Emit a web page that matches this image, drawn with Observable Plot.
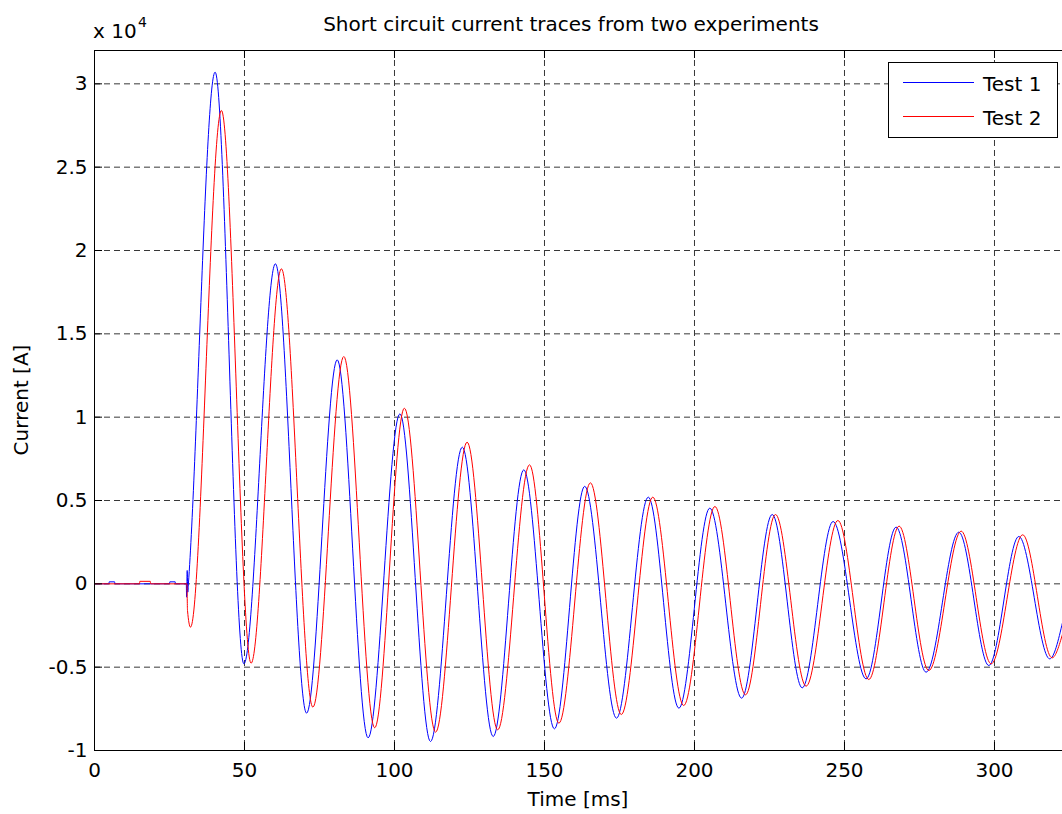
<!DOCTYPE html>
<html><head><meta charset="utf-8">
<script src="https://cdn.jsdelivr.net/npm/d3@7"></script>
<script src="https://cdn.jsdelivr.net/npm/@observablehq/plot@0.6"></script>
<style>
html,body{margin:0;padding:0;background:#fff;}
#chart{position:relative;width:1062px;height:814px;overflow:hidden;}
</style></head><body><div id="chart"></div>
<script>
// ---- data (time in ms, current in units of 10^4 A) ----
const test1Time = [0, 4.8, 4.9, 6.7, 6.8, 25.0, 25.1, 26.9, 27.0, 30.6, 30.7, 30.9, 31.1, 31.3,
  40.2, 49.8, 60.3, 70.7, 80.9, 91.2, 101.8, 112.0, 122.6, 132.9, 143.1, 153.3, 163.4, 174.0,
  184.6, 194.8, 205.1, 215.7, 225.9, 235.9, 246.2, 257.2, 267.2, 277.2, 288.1, 298.1, 308.1, 318.4, 322.7];
const test1Current = [0, 0, 0.012, 0.012, 0, 0, 0.012, 0.012, 0, 0, -0.08, 0.08, -0.05, 0,
  3.07, -0.48, 1.92, -0.776, 1.344, -0.924, 1.02, -0.946, 0.82, -0.916, 0.684, -0.87, 0.585, -0.806,
  0.52, -0.746, 0.454, -0.686, 0.416, -0.624, 0.374, -0.57, 0.34, -0.53, 0.31, -0.49, 0.284, -0.45, -0.23];
const test2Time = [0, 15.0, 15.1, 18.6, 18.7, 30.8, 31.0, 32.0,
  42.3, 52.2, 62.3, 72.8, 83.1, 93.4, 103.3, 113.7, 124.2, 134.4, 145.0, 154.8, 165.3, 175.6,
  186.1, 196.4, 206.8, 217.0, 227.0, 237.2, 247.8, 258.1, 268.2, 278.1, 288.9, 298.9, 309.4, 319.2, 322.7];
const test2Current = [0, 0, 0.015, 0.015, 0, 0, -0.16, -0.26,
  2.84, -0.476, 1.89, -0.74, 1.364, -0.864, 1.054, -0.89, 0.85, -0.876, 0.714, -0.836, 0.606, -0.784,
  0.52, -0.73, 0.464, -0.666, 0.416, -0.614, 0.38, -0.574, 0.346, -0.52, 0.316, -0.48, 0.294, -0.444, -0.3];
const xTicks = [0, 50, 100, 150, 200, 250, 300];
const yTicks = [-1, -0.5, 0, 0.5, 1, 1.5, 2, 2.5, 3];
const seriesNames = ["Test 1", "Test 2"];
const seriesColors = ["#0000ff", "#ff0000"];
const titleText = "Short circuit current traces from two experiments";
const xLabel = "Time [ms]";
const yLabel = "Current [A]";
const yExponent = "4";

// ---- build tables ----
const test1 = test1Time.map((t, i) => ({t, v: test1Current[i]}));
const test2 = test2Time.map((t, i) => ({t, v: test2Current[i]}));

const W = 1062, H = 814, mL = 94, mR = 0, mT = 50, mB = 64;
const fw = W - mL - mR, fh = H - mT - mB;
const font = "'DejaVu Sans', sans-serif";
const gridStyle = {stroke: "#383838", strokeOpacity: 1, strokeWidth: 1, strokeDasharray: "6,4"};

const chart = Plot.plot({
  width: W, height: H,
  marginLeft: mL, marginRight: mR, marginTop: mT, marginBottom: mB,
  style: {fontFamily: font, fontSize: "20px", color: "#000", background: "#fff"},
  x: {domain: [0, 322.667], label: null},
  y: {domain: [-1, 3.2], label: null},
  marks: [
    Plot.gridX(xTicks, gridStyle),
    Plot.gridY(yTicks, gridStyle),
    Plot.line(test1, {x: "t", y: "v", stroke: seriesColors[0], strokeWidth: 1, curve: "monotone-x"}),
    Plot.line(test2, {x: "t", y: "v", stroke: seriesColors[1], strokeWidth: 1, curve: "monotone-x"}),
    Plot.ruleX([0], {stroke: "#000"}),
    Plot.ruleY([-1, 3.2], {stroke: "#000"}),
    Plot.tickX(xTicks, {x: d => d, stroke: "#000", insetBottom: fh - 8}),
    Plot.tickX(xTicks, {x: d => d, stroke: "#000", insetTop: fh - 8}),
    Plot.tickY(yTicks, {y: d => d, stroke: "#000", insetRight: fw - 8}),
    Plot.axisX(xTicks, {tickSize: 0, tickPadding: 12, tickFormat: d => String(d), label: null, fontSize: 20}),
    Plot.axisY(yTicks, {tickSize: 0, tickPadding: 7, tickFormat: d => String(d), label: null, fontSize: 20})
  ]
});
document.getElementById("chart").appendChild(chart);

// ---- text decorations and MATLAB-style legend ----
const svg = d3.select(chart);
const deco = svg.append("g").attr("font-family", font).attr("fill", "#000");
deco.append("text").attr("x", 571).attr("y", 30.5).attr("text-anchor", "middle")
  .attr("font-size", 20).text(titleText);
deco.append("text").attr("x", 578).attr("y", 806).attr("text-anchor", "middle")
  .attr("font-size", 20).text(xLabel);
deco.append("text").attr("transform", "translate(27.5,400) rotate(-90)").attr("text-anchor", "middle")
  .attr("font-size", 20).text(yLabel);
deco.append("text").attr("x", 93).attr("y", 37.5).attr("text-anchor", "start")
  .attr("font-size", 20).text("x 10");
deco.append("text").attr("x", 138).attr("y", 27).attr("text-anchor", "start")
  .attr("font-size", 14).text(yExponent);

const lg = svg.append("g").attr("font-family", font);
lg.append("rect").attr("x", 888.5).attr("y", 62.5).attr("width", 169).attr("height", 75)
  .attr("fill", "#fff").attr("stroke", "#000").attr("stroke-width", 1);
seriesNames.forEach((name, i) => {
  const y = 82.5 + i * 34;
  lg.append("line").attr("x1", 903).attr("x2", 974).attr("y1", y).attr("y2", y)
    .attr("stroke", seriesColors[i]).attr("stroke-width", 1);
  lg.append("text").attr("x", 983).attr("y", y + 8.5).attr("text-anchor", "start")
    .attr("font-size", 20).attr("fill", "#000").text(name);
});
</script></body></html>
